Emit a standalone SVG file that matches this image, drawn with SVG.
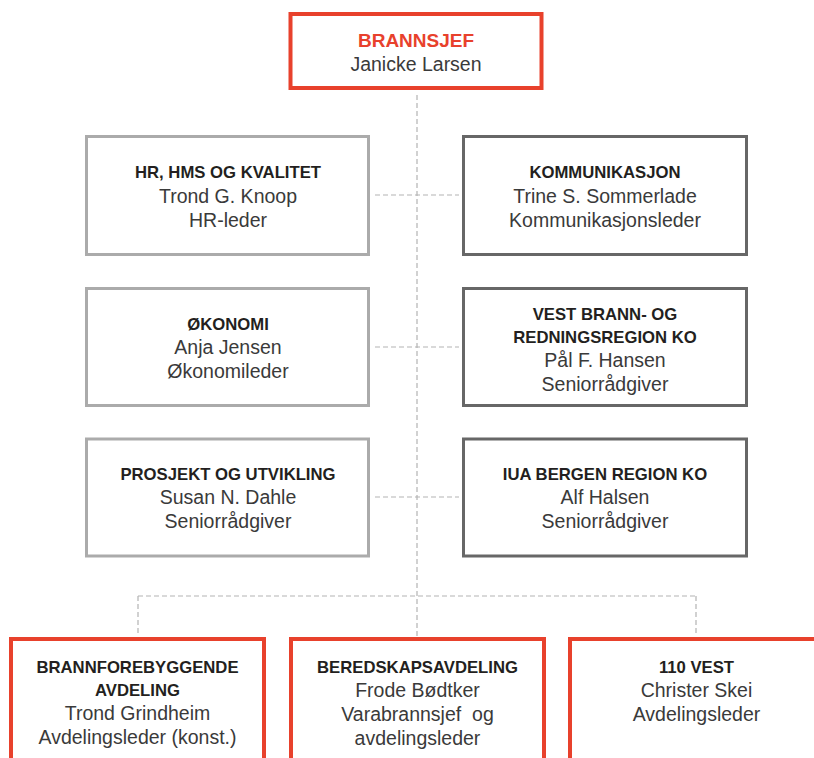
<svg xmlns="http://www.w3.org/2000/svg" width="814" height="758" viewBox="0 0 814 758">
<style>
text{font-family:"Liberation Sans",Arial,sans-serif;text-anchor:middle}
.t{font-weight:bold;font-size:16.7px;fill:#231f20}
.n{font-size:19.5px;fill:#3a3a3a}
.red{fill:none;stroke:#e8412c;stroke-width:4}
.lg{fill:none;stroke:#ababab;stroke-width:3}
.dg{fill:none;stroke:#676767;stroke-width:3}
.c{fill:none;stroke:#b3b3b3;stroke-width:1.2;stroke-dasharray:5 3}
</style>
<rect width="814" height="758" fill="#ffffff"/>
<g id="connectors">
<path class="c" d="M417 95V636"/>
<path class="c" d="M138 596H696"/>
<path class="c" d="M138 596V636M696 596V636"/>
<path class="c" d="M375 195H459M375 347H459M375 497H459"/>
</g>
<g id="brannsjef">
<rect class="red" x="290.5" y="14" width="251" height="74"/>
<text x="416" y="46.5" style="font-weight:bold;font-size:19px;fill:#e8412c">BRANNSJEF</text>
<text class="n" x="416" y="70.5">Janicke Larsen</text>
</g>
<g id="hr">
<rect class="lg" x="86.5" y="136.5" width="282" height="118"/>
<text class="t" x="228" y="178">HR, HMS OG KVALITET</text>
<text class="n" x="228" y="202.5">Trond G. Knoop</text>
<text class="n" x="228" y="226.5">HR-leder</text>
</g>
<g id="kommunikasjon">
<rect class="dg" x="463.5" y="136.5" width="283" height="118"/>
<text class="t" x="605" y="178">KOMMUNIKASJON</text>
<text class="n" x="605" y="202.5">Trine S. Sommerlade</text>
<text class="n" x="605" y="226.5">Kommunikasjonsleder</text>
</g>
<g id="okonomi">
<rect class="lg" x="86.5" y="288.5" width="282" height="117"/>
<text class="t" x="228" y="329.5">ØKONOMI</text>
<text class="n" x="228" y="353.5">Anja Jensen</text>
<text class="n" x="228" y="377.5">Økonomileder</text>
</g>
<g id="vest">
<rect class="dg" x="463.5" y="288.5" width="283" height="117"/>
<text class="t" x="605" y="320">VEST BRANN- OG</text>
<text class="t" x="605" y="342.5">REDNINGSREGION KO</text>
<text class="n" x="605" y="367">Pål F. Hansen</text>
<text class="n" x="605" y="391">Seniorrådgiver</text>
</g>
<g id="prosjekt">
<rect class="lg" x="86.5" y="439" width="282" height="117"/>
<text class="t" x="228" y="479.5">PROSJEKT OG UTVIKLING</text>
<text class="n" x="228" y="503.5">Susan N. Dahle</text>
<text class="n" x="228" y="527.5">Seniorrådgiver</text>
</g>
<g id="iua">
<rect class="dg" x="463.5" y="439" width="283" height="117"/>
<text class="t" x="605" y="479.5">IUA BERGEN REGION KO</text>
<text class="n" x="605" y="503.5">Alf Halsen</text>
<text class="n" x="605" y="527.5">Seniorrådgiver</text>
</g>
<g id="brannforebyggende">
<rect class="red" x="11" y="639" width="253" height="140"/>
<text class="t" x="137.5" y="673">BRANNFOREBYGGENDE</text>
<text class="t" x="137.5" y="696">AVDELING</text>
<text class="n" x="137.5" y="720">Trond Grindheim</text>
<text class="n" x="137.5" y="744">Avdelingsleder (konst.)</text>
</g>
<g id="beredskap">
<rect class="red" x="291" y="639" width="253" height="140"/>
<text class="t" x="417.5" y="673">BEREDSKAPSAVDELING</text>
<text class="n" x="417.5" y="697">Frode Bødtker</text>
<text class="n" x="417.5" y="721" xml:space="preserve">Varabrannsjef  og</text>
<text class="n" x="417.5" y="745">avdelingsleder</text>
</g>
<g id="vest110">
<rect class="red" x="570" y="639" width="253" height="140"/>
<text class="t" x="696.5" y="673">110 VEST</text>
<text class="n" x="696.5" y="697">Christer Skei</text>
<text class="n" x="696.5" y="720.5">Avdelingsleder</text>
</g>
</svg>
